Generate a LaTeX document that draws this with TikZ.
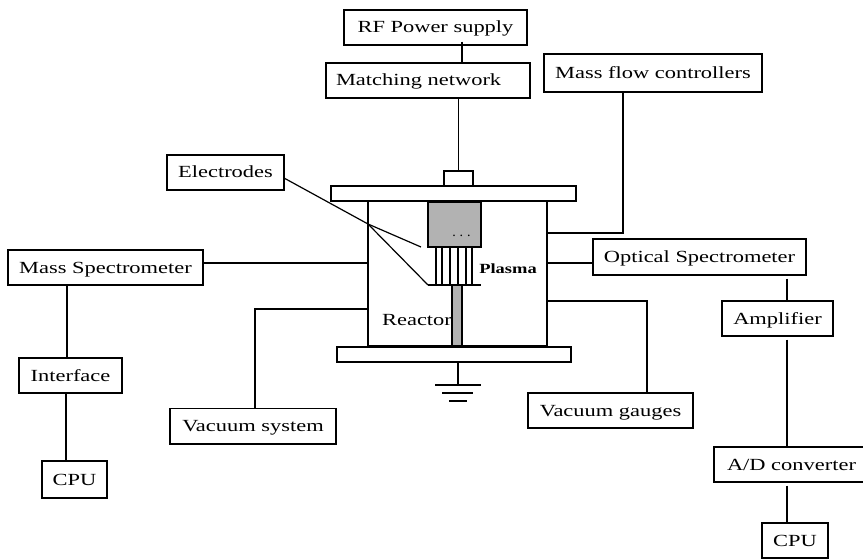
\documentclass[tikz,border=0pt]{standalone}
\usepackage{fontspec}
\setmainfont{Liberation Serif}
\newfontfamily\wideserif[FakeStretch=1.32]{Liberation Serif}
\usetikzlibrary{positioning}

\begin{document}
\begin{tikzpicture}[x=1pt,y=-1pt,line width=1.2pt,align=center]
\tikzstyle{block}=[draw=black,fill=white,inner sep=0pt,minimum height=35pt,text height=13pt,text depth=2pt,font=\wideserif\fontsize{17}{19}\selectfont]
\tikzstyle{part}=[draw=black,fill=white,inner sep=0pt]
\tikzstyle{dark}=[draw=black,fill=black!30,inner sep=0pt]
\tikzstyle{wire}=[-,black]

\useasboundingbox (0,0) rectangle (863,559);

% instruments
\node[block,minimum width=183pt] (rf) at (435.5,27.5) {RF Power supply};
\node[block,minimum width=204pt,text width=184pt,align=left] (match) at (428,80.5) {Matching network};
\node[block,minimum width=218pt,minimum height=38pt] (mflow) at (653,73) {Mass flow controllers};
\node[block,minimum width=117pt] (elec) at (225.5,172.5) {Electrodes};
\node[block,minimum width=195pt] (mspec) at (105.5,267.5) {Mass Spectrometer};
\node[block,minimum width=103pt] (iface) at (70.5,375.5) {Interface};
\node[block,minimum width=65pt,minimum height=37pt] (cpul) at (74.5,479.5) {CPU};
\node[block,minimum width=166pt,minimum height=35.5pt] (vacsys) at (253,426.2) {Vacuum system};
\node[block,minimum width=165pt] (vacg) at (610.5,410.5) {Vacuum gauges};
\node[block,minimum width=213pt,minimum height=36pt] (ospec) at (699.5,257) {Optical Spectrometer};
\node[block,minimum width=111pt] (amp) at (777.5,318.5) {Amplifier};
\node[block,minimum width=155pt] (adc) at (791.5,464.5) {A/D converter};
\node[block,minimum width=66pt] (cpur) at (795,540.5) {CPU};

% reactor
\node[part,minimum width=179pt,minimum height=145pt] (body) at (457.5,273.5) {};
\node[part,minimum width=245pt,minimum height=15pt] (topplate) at (453.5,193.5) {};
\node[part,minimum width=234pt,minimum height=15pt] (botplate) at (454,354.5) {};
\node[part,minimum width=29pt,minimum height=15pt] (feed) at (458.5,178.5) {};
\node[dark,minimum width=53pt,minimum height=45pt] (head) at (454.5,224.5) {};
\node[dark,minimum width=10pt,minimum height=61pt] (stem) at (457,315.5) {};
\node[inner sep=0pt,font=\fontsize{14}{15}\selectfont] (dots) at (461.5,236) {.\hspace{4pt}.\hspace{4pt}.};
\node[inner sep=0pt,font=\wideserif\fontsize{14}{15}\selectfont\bfseries] (plasma) at (508,269) {Plasma};
\node[inner sep=0pt,font=\wideserif\fontsize{17}{19}\selectfont] (reactor) at (417,320) {Reactor};
\draw[wire,line width=2pt] (body.south west) -- (body.south east);

% electrode fins
\foreach \x/\name in {436/a,442/b,450/c,458/d,466/e,472/f} {
  \coordinate (fin\name) at (\x,247);
  \draw[wire] (fin\name) -- (\x,285);
}
\coordinate (baseL) at (428,285);
\coordinate (baseR) at (481,285);
\draw[wire] (baseL) -- (baseR);

% ground
\coordinate (gnd) at (458,385);
\draw[wire] (botplate.south -| gnd) -- (gnd);
\draw[wire] (435,385) -- (481,385);
\draw[wire] (442,393) -- (473,393);
\draw[wire] (449,401) -- (467,401);

% connection points on the reactor wall
\coordinate (elbow) at (368,224);
\coordinate (elecout) at (284,178);
\coordinate (elecend) at (421,247);
\coordinate (wallmf) at (547,233);
\coordinate (wallos) at (547,263);
\coordinate (wallvg) at (547,301);
\coordinate (wallms) at (368,263);
\coordinate (wallvs) at (368,309);

\path
  (feed.north) edge [wire] (feed.north |- match.south);
\draw[wire] ([yshift=4pt]rf.south -| 462,0) -- (match.north -| 462,0);
\draw[wire] (mflow.south -| 623,0) -- (623,233) -- (wallmf);
\draw[wire] (elecout) -- (elbow) -- (elecend);
\draw[wire] (elbow) -- (baseL);
\draw[wire] (mspec.east |- wallms) -- (wallms);
\draw[wire] (ospec.west |- wallos) -- (wallos);
\draw[wire] (wallvs) -| (vacsys.north -| 255,0);
\draw[wire] (wallvg) -| (vacg.north -| 647,0);
\draw[wire] (iface.north -| 67,0) -- (mspec.south -| 67,0);
\draw[wire] (iface.south -| 66,0) -- (cpul.north -| 66,0);
\draw[wire] ([yshift=-3pt]ospec.south -| 787,0) -- (amp.north -| 787,0);
\draw[wire] ([yshift=-3pt]amp.south -| 787,0) -- (adc.north -| 787,0);
\draw[wire] ([yshift=-3pt]adc.south -| 787,0) -- (cpur.north -| 787,0);
\end{tikzpicture}
\end{document}
